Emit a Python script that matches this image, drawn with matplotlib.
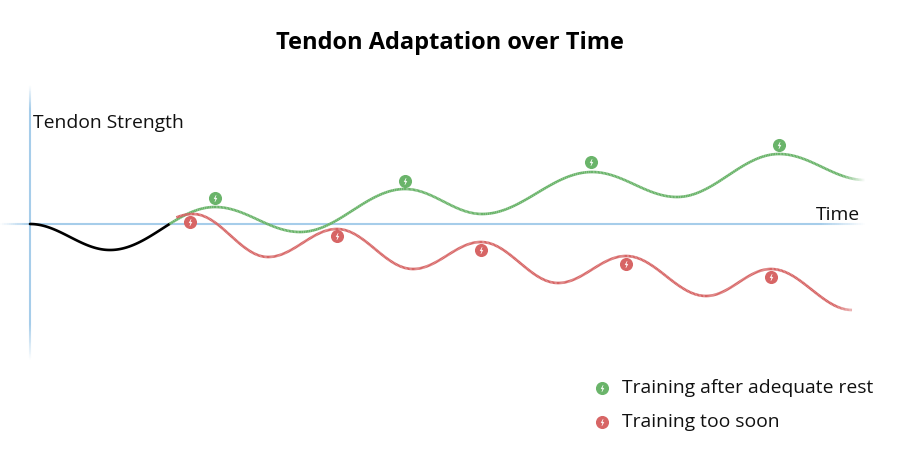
import numpy as np
import matplotlib
matplotlib.use('Agg')
import matplotlib.pyplot as plt
from matplotlib.collections import LineCollection
from matplotlib.path import Path
from matplotlib.colors import to_rgba

# ---- data (time units, strength units; origin at start of baseline) ----
initial_t = [0, 80]
initial_s = [0, -26]
split_t = 140                      # where the two outcomes branch off

rest_t = [185, 270, 375, 452, 562, 647, 749, 835]
rest_s = [17, -8, 35, 10, 52, 27, 70, 44]

soon_t = [163, 238, 307, 383, 451, 528, 596, 676, 741, 822]
soon_s = [10, -33, -5, -45, -18, -59, -32, -72, -45, -86]

rest_session_t = [185, 375, 561, 749]
rest_session_s = [26, 43, 62, 79]
soon_session_t = [160, 307, 451, 596, 741]
soon_session_s = [2, -12, -26, -40, -53]

title = 'Tendon Adaptation over Time'
y_label = 'Tendon Strength'
x_label = 'Time'
legend_labels = ['Training after adequate rest', 'Training too soon']

# ---- style ----
GREEN = '#6ab46a'
RED = '#d76565'
AXIS = '#a6cdea'
FONT = ['Open Sans', 'DejaVu Sans']
plt.rcParams['font.family'] = FONT

W, H = 900, 450
fig = plt.figure(figsize=(9, 4.5), dpi=100)
ax = fig.add_axes([0, 0, 1, 1])
ax.set_xlim(-30, 870)
ax.set_ylim(-226, 224)
ax.axis('off')


def smooth(ts, ss, n=60):
    xs, ys = [], []
    for i in range(len(ts) - 1):
        u = np.linspace(0, 1, n, endpoint=False)
        xs.append(ts[i] + (ts[i + 1] - ts[i]) * u)
        ys.append(ss[i] + (ss[i + 1] - ss[i]) * (1 - np.cos(np.pi * u)) / 2)
    xs.append([ts[-1]])
    ys.append([ss[-1]])
    return np.concatenate(xs), np.concatenate(ys)


def faded(ax, x, y, color, lw, key, a0, a1, b0, b1, z=2):
    """Draw line with alpha ramp 0->1 over key in [a0,a1] and 1->0 over [b0,b1]."""
    x = np.asarray(x, float); y = np.asarray(y, float)
    pts = np.column_stack([x, y])
    segs = np.stack([pts[:-1], pts[1:]], axis=1)
    k = (key[:-1] + key[1:]) / 2
    alpha = np.ones_like(k)
    if a1 > a0:
        alpha = np.minimum(alpha, np.clip((k - a0) / (a1 - a0), 0, 1))
    if b1 > b0:
        alpha = np.minimum(alpha, np.clip((b1 - k) / (b1 - b0), 0, 1))
    rgba = np.array([to_rgba(color, a) for a in alpha])
    lc = LineCollection(segs, colors=rgba, linewidths=lw, capstyle='butt',
                        joinstyle='round', zorder=z)
    ax.add_collection(lc)


# axes lines (faded ends)
xa = np.linspace(-30, 835, 400)
faded(ax, xa, np.zeros_like(xa), AXIS, 1.5, xa, -30, 0, 790, 835, z=1)
ya = np.linspace(-136, 139, 300)
faded(ax, np.zeros_like(ya), ya, AXIS, 1.5, ya, -136, -100, 115, 139, z=1)

# baseline + adequate rest curve
gx, gy = smooth(initial_t + rest_t, initial_s + rest_s)
m = gx <= split_t
ax.plot(gx[m], gy[m], color='black', lw=1.9, solid_capstyle='round', zorder=3)
m = gx >= split_t - 0.5
faded(ax, gx[m], gy[m], GREEN, 1.9, gx[m], 0, 0, 812, 835, z=3)

# training too soon curve
rx, ry = smooth(initial_t + soon_t, initial_s + soon_s)
m = rx >= split_t + 6
faded(ax, rx[m], ry[m], RED, 1.9, rx[m], 0, 0, 805, 838, z=3)

# bolt marker
bolt = Path([(0.2, 1.0), (-0.45, -0.12), (0.02, -0.12), (-0.2, -1.0),
             (0.45, 0.12), (-0.02, 0.12), (0.2, 1.0)],
            [Path.MOVETO] + [Path.LINETO] * 5 + [Path.CLOSEPOLY])


def session_marks(ax, t, s, color):
    ax.plot(t, s, ls='none', marker='o', ms=8.4, mfc=color, mec=color, zorder=5)
    ax.plot(t, s, ls='none', marker=bolt, ms=5.0, mfc='white', mec='white',
            mew=0.2, zorder=6)


session_marks(ax, rest_session_t, rest_session_s, GREEN)
session_marks(ax, soon_session_t, soon_session_s, RED)

# texts
fig.text(450 / W, 1 - 43 / H, title, ha='center', va='center', fontsize=17,
         fontweight='bold', color='black')
fig.text(33 / W, 1 - 123 / H, y_label, ha='left', va='center', fontsize=13.9,
         color='#111111')
fig.text(860 / W, 1 - 215 / H, x_label, ha='right', va='center', fontsize=13.9,
         color='#111111')

# legend
for i, (lab, col) in enumerate(zip(legend_labels, [GREEN, RED])):
    yy = 1 - (388 + 34 * i) / H
    xx = 602 / W
    fig.lines.append(plt.Line2D([xx], [yy], transform=fig.transFigure, ls='none',
                                marker='o', ms=8.4, mfc=col, mec=col))
    fig.lines.append(plt.Line2D([xx], [yy], transform=fig.transFigure, ls='none',
                                marker=bolt, ms=5.0, mfc='white', mec='white', mew=0.2))
    fig.text(622 / W, yy, lab, ha='left', va='center', fontsize=13.9, color='#111111')

fig.savefig('out.png', dpi=100, facecolor='white')
